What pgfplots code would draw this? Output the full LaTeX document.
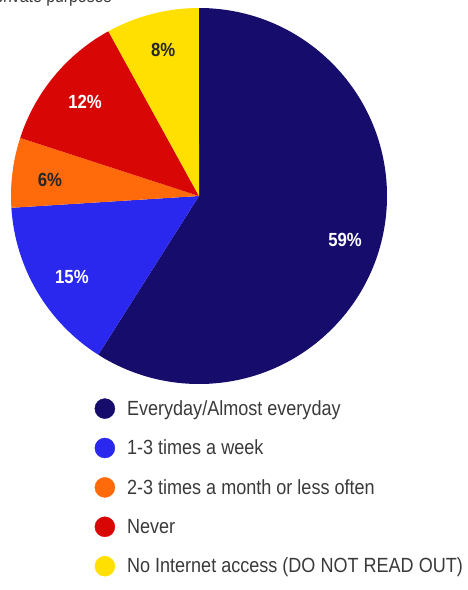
\documentclass[border=0pt]{standalone}
\usepackage{pgfplots}
\pgfplotsset{compat=1.18}
\usepackage{pgfplotstable}
\usepackage{fontspec}
\setmainfont{Liberation Sans}[FakeStretch=0.88]
\definecolor{cNavy}{HTML}{160C6C}
\definecolor{cBlue}{HTML}{2A28EE}
\definecolor{cOrange}{HTML}{FF6A0A}
\definecolor{cRed}{HTML}{D90606}
\definecolor{cYellow}{HTML}{FFE000}
\definecolor{cText}{HTML}{3A3A3A}
% cumulative shares (percent): start, end
\newcommand{\slice}[3]{%
  \fill[#3] (axis cs:0,0) -- (axis cs:{cos(90-3.6*#1)},{sin(90-3.6*#1)})
    arc[start angle={90-3.6*#1}, end angle={90-3.6*#2}, radius=1] -- cycle;}
\pgfplotsset{piecircle/.style={legend image code/.code={%
  \fill[##1] (6pt,0pt) circle (10pt);}}}
\begin{document}
\begin{tikzpicture}[x=1pt,y=1pt]
\useasboundingbox (0,0) rectangle (468,590);
\node[anchor=base east, font=\fontsize{18}{20}\selectfont, text=cText] at (115,587.5) {for private purposes};
\begin{axis}[
  hide axis, scale only axis,
  width=376pt, height=376pt,
  xmin=-1, xmax=1, ymin=-1, ymax=1,
  at={(199pt,394pt)}, anchor=origin,
  clip=false,
  piecircle,
  legend cell align=left,
  legend style={draw=none, fill=none, at={(axis cs:-0.572,-1.065)}, anchor=north west,
    font=\fontsize{20.5}{22}\selectfont, text=cText, row sep=19pt,
    /tikz/every odd column/.append style={column sep=10pt}},
]
% values: 59, 15, 6, 12, 8 (clockwise from 12 o'clock)
\slice{0}{59}{cNavy}
\slice{59}{74}{cBlue}
\slice{74}{80}{cOrange}
\slice{80}{92}{cRed}
\slice{92}{100}{cYellow}
\addlegendimage{cNavy}
\addlegendentry{Everyday/Almost everyday}
\addlegendimage{cBlue}
\addlegendentry{1-3 times a week}
\addlegendimage{cOrange}
\addlegendentry{2-3 times a month or less often}
\addlegendimage{cRed}
\addlegendentry{Never}
\addlegendimage{cYellow}
\addlegendentry{No Internet access (DO NOT READ OUT)}
\node[text=white, font=\bfseries\fontsize{19}{21}\selectfont] at (axis cs:0.777,-0.234) {59\%};
\node[text=white, font=\bfseries\fontsize{19}{21}\selectfont] at (axis cs:-0.676,-0.431) {15\%};
\node[text=black!85, font=\bfseries\fontsize{19}{21}\selectfont] at (axis cs:-0.793,0.085) {6\%};
\node[text=white, font=\bfseries\fontsize{19}{21}\selectfont] at (axis cs:-0.606,0.500) {12\%};
\node[text=black!85, font=\bfseries\fontsize{19}{21}\selectfont] at (axis cs:-0.191,0.777) {8\%};
\end{axis}
\end{tikzpicture}
\end{document}
